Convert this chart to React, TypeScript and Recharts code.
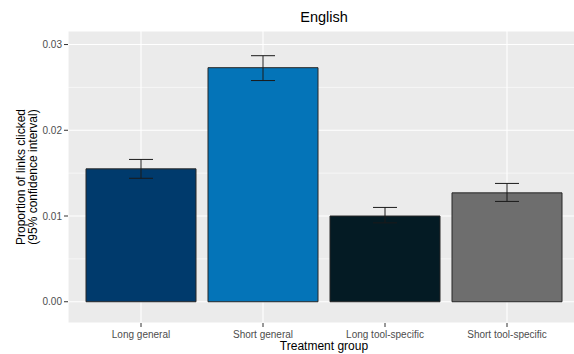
import React from 'react'
import { BarChart, Bar, Cell, XAxis, YAxis, CartesianGrid, ErrorBar } from 'recharts'

const categories = ['Long general', 'Short general', 'Long tool-specific', 'Short tool-specific']
const proportions = [0.0155, 0.0273, 0.01, 0.0127]
const lowerCI = [0.0144, 0.0258, 0.0092, 0.0117]
const upperCI = [0.0166, 0.0287, 0.011, 0.0138]
const barColors = ['#003A6C', '#0474B8', '#041B24', '#6E6E6E']
const yTicks = [0, 0.01, 0.02, 0.03]
const minorTicks = [0.005, 0.015, 0.025]

const FONT = '"Liberation Sans", Arial, sans-serif'

const data = categories.map((name, i) => ({
  name,
  value: proportions[i],
  err: [proportions[i] - lowerCI[i], upperCI[i] - proportions[i]],
}))

function YTitle(props: any) {
  const { x, y, height } = props.viewBox
  const cx = x + 24.5
  const cy = y + height / 2
  return (
    <text
      transform={`rotate(-90, ${cx}, ${cy})`}
      x={cx}
      y={cy}
      textAnchor="middle"
      fontSize={12}
      fontFamily={FONT}
      fill="#000"
    >
      <tspan x={cx} dy={0}>Proportion of links clicked</tspan>
      <tspan x={cx} dy={12}>(95% confidence interval)</tspan>
    </text>
  )
}

function XTitle(props: any) {
  const { x, y, width } = props.viewBox
  return (
    <text x={x + width / 2} y={y + 27} textAnchor="middle" fontSize={12} fontFamily={FONT} fill="#000">
      Treatment group
    </text>
  )
}

export default function App() {
  return (
    <div style={{ position: 'absolute', left: 0, top: 0, width: 574, height: 354, overflow: 'hidden', background: '#fff' }}>
      <div
        style={{
          position: 'absolute',
          left: 68,
          top: 10,
          width: 512,
          textAlign: 'center',
          fontFamily: FONT,
          fontSize: 14.5,
          lineHeight: '14.5px',
          color: '#000',
        }}
      >
        English
      </div>
      <BarChart width={580} height={354} data={data} margin={{ top: 31, right: 0, bottom: 0, left: 0 }}>
        <CartesianGrid fill="#EBEBEB" stroke="#FFFFFF" strokeWidth={1.1} />
        <CartesianGrid vertical={false} stroke="#FFFFFF" strokeWidth={0.55} horizontalValues={minorTicks} />
        <XAxis
          dataKey="name"
          height={31}
          padding={{ left: 12, right: 12 }}
          axisLine={false}
          tickLine={{ stroke: '#333333' }}
          tickSize={4}
          tickMargin={4}
          tick={{ fontSize: 10, fill: '#4D4D4D', fontFamily: FONT }}
          label={<XTitle />}
        />
        <YAxis
          width={68}
          domain={[-0.00248, 0.03158]}
          allowDataOverflow
          ticks={yTicks}
          tickFormatter={(v: number) => v.toFixed(2)}
          axisLine={false}
          tickLine={{ stroke: '#333333' }}
          tickSize={4}
          tickMargin={2}
          tick={{ fontSize: 10, fill: '#4D4D4D', fontFamily: FONT }}
          label={<YTitle />}
        />
        <Bar dataKey="value" barSize={110} stroke="#262626" strokeWidth={1} isAnimationActive={false}>
          {data.map((d, i) => (
            <Cell key={d.name} fill={barColors[i]} />
          ))}
          <ErrorBar dataKey="err" width={12} stroke="#1A1A1A" strokeWidth={1} isAnimationActive={false} />
        </Bar>
      </BarChart>
    </div>
  )
}
